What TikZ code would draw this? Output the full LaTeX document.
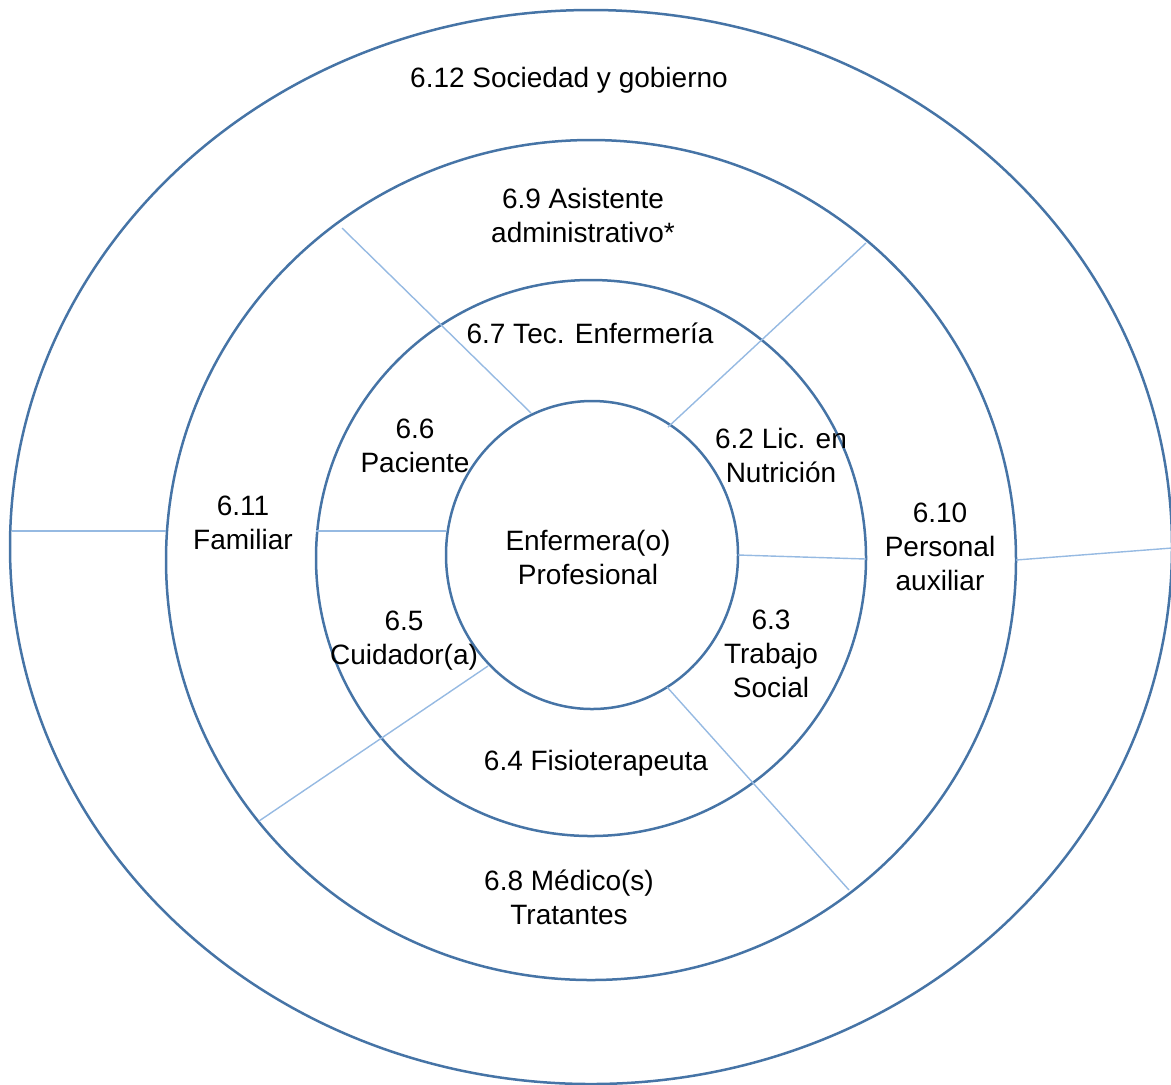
\documentclass[tikz,border=0pt]{standalone}
\usepackage{fontspec}
\setmainfont{Liberation Sans}
\definecolor{ringblue}{RGB}{70,116,166}
\definecolor{splitblue}{RGB}{150,186,226}
\tikzset{
  ring/.style={draw=ringblue, line width=1.25pt},
  split/.style={draw=splitblue, line width=0.7pt},
  lbl/.style={align=center, inner sep=0pt, font=\fontsize{14}{17}\selectfont}
}
\begin{document}
\begin{tikzpicture}[x=0.5pt, y=-0.5pt]
  \useasboundingbox (0,0) rectangle (1171,1084);
  \clip (0,0) rectangle (1171,1084);

  % concentric rings
  \draw[ring] (591,547) ellipse [x radius=290.5pt, y radius=268.5pt];
  \draw[ring] (591,560) ellipse [x radius=212.5pt, y radius=210pt];
  \draw[ring] (591,558) ellipse [x radius=137.5pt, y radius=139pt];
  \draw[ring] (592,555) ellipse [x radius=73pt, y radius=77pt];

  % ends of the dividing strokes
  \coordinate (oL) at (12,531);    \coordinate (mL) at (166,531);
  \coordinate (mR) at (1016,560);  \coordinate (oR) at (1172,548);
  \coordinate (aUL) at (342,228);  \coordinate (bUL) at (531,413);
  \coordinate (aUR) at (866,243);  \coordinate (bUR) at (668,427);
  \coordinate (aL) at (316,531);   \coordinate (bL) at (446,531);
  \coordinate (aR) at (738,555);   \coordinate (bR) at (866,559);
  \coordinate (aLL) at (259,821);  \coordinate (bLL) at (488,666);
  \coordinate (aLR) at (849,890);  \coordinate (bLR) at (667,687);

  \draw[split] (oL) -- (mL);
  \draw[split] (mR) -- (oR);
  \draw[split] (aUL) -- (bUL);
  \draw[split] (aUR) -- (bUR);
  \draw[split] (aL) -- (bL);
  \draw[split] (aR) -- (bR);
  \draw[split] (aLL) -- (bLL);
  \draw[split] (aLR) -- (bLR);

  % labels
  \node[lbl] (soc) at (569,80) {6.12 Sociedad y gobierno};
  \node[lbl] (asi) at (583,215) {6.9 Asistente\\administrativo*};
  \node[lbl] (tec) at (590,333) {6.7 Tec. Enfermería};
  \node[lbl] (pac) at (415,446) {6.6\\Paciente};
  \node[lbl] (nut) at (781,455) {6.2 Lic. en\\Nutrición};
  \node[lbl] (fam) at (243,523) {6.11\\Familiar};
  \node[lbl] (enf) at (588,557) {Enfermera(o)\\Profesional};
  \node[lbl] (aux) at (940,547) {6.10\\Personal\\auxiliar};
  \node[lbl] (cui) at (404,641) {6.5\\Cuidador(a)};
  \node[lbl] (tra) at (771,654) {6.3\\Trabajo\\Social};
  \node[lbl] (fis) at (596,763) {6.4 Fisioterapeuta};
  \node[lbl] (med) at (569,897) {6.8 Médico(s)\\Tratantes};
\end{tikzpicture}
\end{document}
